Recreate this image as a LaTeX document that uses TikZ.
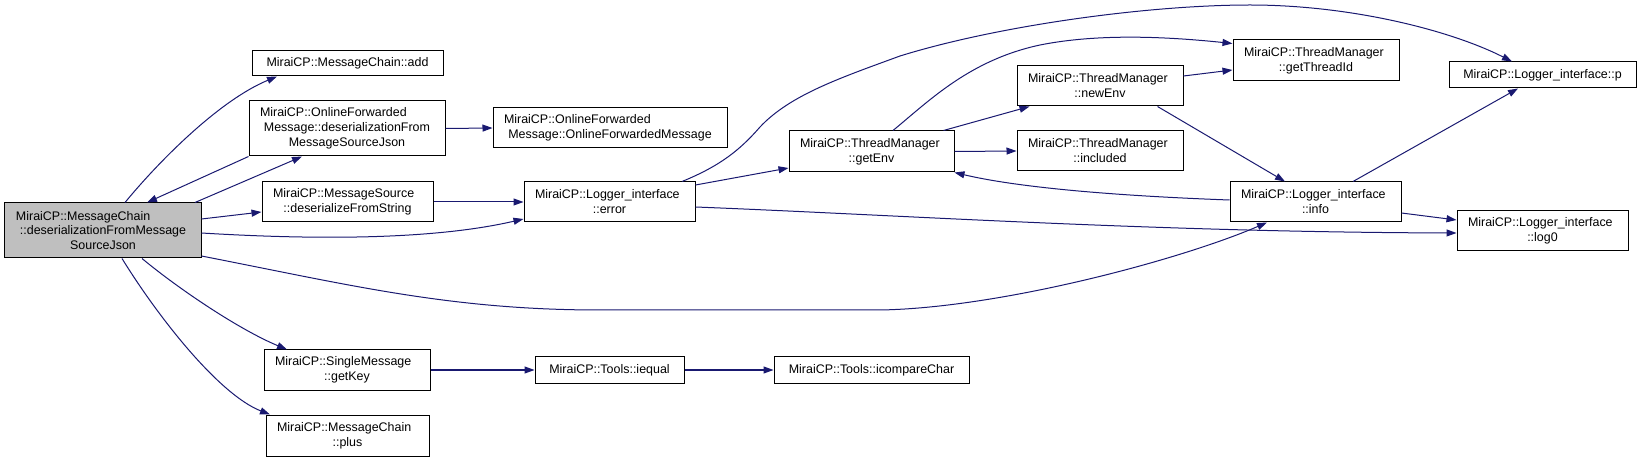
\documentclass[tikz,border=0pt]{standalone}
\usepackage{fontspec}
\setmainfont{Liberation Sans}
\usetikzlibrary{arrows.meta,calc}
\definecolor{edgecol}{HTML}{191970}
\definecolor{mainfill}{HTML}{BFBFBF}
\newcommand\firstl[1]{\makebox[\linewidth][l]{#1}}
\tikzset{
  fn/.style={draw=black, line width=1bp, fill=white, inner sep=0pt, align=center,
             font=\fontsize{12.5}{15}\selectfont},
  box/.style n args={2}{fn, minimum width=#1, minimum height=#2},
  mbox/.style n args={2}{fn, minimum width=#1, minimum height=#2, text width=#1-22bp},
  conn/.style={draw=edgecol, line width=1bp, -{Triangle[length=10bp,width=7bp]}},
}
\begin{document}
\begin{tikzpicture}[x=1bp,y=-1bp]
\useasboundingbox (0,0) rectangle (1641,461);
% nodes
\node[mbox={196bp}{55bp}, fill=mainfill] (main) at (103,230.5)
  {\firstl{MiraiCP::MessageChain}\\::deserializationFromMessage\\SourceJson};
\node[box={191bp}{25bp}] (add) at (347.5,63.5) {MiraiCP::MessageChain::add};
\node[mbox={196bp}{55bp}] (ofd) at (347,128.5)
  {\firstl{MiraiCP::OnlineForwarded}\\Message::deserializationFrom\\MessageSourceJson};
\node[mbox={171bp}{40bp}] (msrc) at (347.5,202)
  {\firstl{MiraiCP::MessageSource}\\::deserializeFromString};
\node[mbox={166bp}{40bp}] (getkey) at (347,370)
  {\firstl{MiraiCP::SingleMessage}\\::getKey};
\node[mbox={163bp}{41bp}] (plus) at (347.5,435.5)
  {\firstl{MiraiCP::MessageChain}\\::plus};
\node[mbox={234bp}{40bp}] (ofc) at (610,128)
  {\firstl{MiraiCP::OnlineForwarded}\\Message::OnlineForwardedMessage};
\node[mbox={171bp}{40bp}] (err) at (609.5,202)
  {\firstl{MiraiCP::Logger\_interface}\\::error};
\node[box={149bp}{26bp}] (iequal) at (609.5,370) {MiraiCP::Tools::iequal};
\node[box={195bp}{26bp}] (icmp) at (871.5,370) {MiraiCP::Tools::icompareChar};
\node[mbox={165bp}{41bp}] (getenv) at (871.5,151.5)
  {\firstl{MiraiCP::ThreadManager}\\::getEnv};
\node[mbox={166bp}{40bp}] (newenv) at (1100,86)
  {\firstl{MiraiCP::ThreadManager}\\::newEnv};
\node[mbox={166bp}{40bp}] (included) at (1100,151)
  {\firstl{MiraiCP::ThreadManager}\\::included};
\node[mbox={166bp}{41bp}] (gettid) at (1316,60.5)
  {\firstl{MiraiCP::ThreadManager}\\::getThreadId};
\node[mbox={171bp}{40bp}] (info) at (1315.5,202)
  {\firstl{MiraiCP::Logger\_interface}\\::info};
\node[box={187bp}{26bp}] (p) at (1542.5,75) {MiraiCP::Logger\_interface::p};
\node[mbox={171bp}{40bp}] (log0) at (1542.5,231)
  {\firstl{MiraiCP::Logger\_interface}\\::log0};
% edges
\draw[conn] ($(main.north)+(22,0)$) .. controls (160,160) and (220,100) .. ($(add.south)+(-70.5,0)$);
\draw[conn] (ofd.south west) -- ($(main.north)+(44,0)$);
\draw[conn] ($(main.north)+(92,0)$) -- ($(ofd.south)+(-45,0)$);
\draw[conn] ($(main.east)+(0,-11.5)$) -- ($(msrc.west)+(0,10)$);
\draw[conn] ($(main.east)+(0,2.5)$) .. controls (350,242) and (450,236) .. ($(err.west)+(0,17)$);
\draw[conn] ($(main.east)+(0,25.5)$) .. controls (350,285) and (450,310) .. (600,310) -- (880,310)
   .. controls (1000,308) and (1180,260) .. ($(info.south)+(-48.5,0)$);
\draw[conn] ($(main.south)+(39,0)$) .. controls (180,290) and (240,330) .. ($(getkey.north)+(-60,0)$);
\draw[conn] ($(main.south)+(19,0)$) .. controls (160,320) and (220,395) .. ($(plus.north)+(-77.5,0)$);
\draw[conn] (ofd.east) -- (ofc.west);
\draw[conn] (msrc.east) -- (err.west);
\draw[conn] (getkey.east) -- (iequal.west);
\draw[conn] (iequal.east) -- (icmp.west);
\draw[conn] ($(err.east)+(0,-17)$) -- ($(getenv.west)+(0,16.5)$);
\draw[conn] ($(err.north)+(72.5,0)$) .. controls (720,166) and (740,150) .. (760,127)
   .. controls (790,95) and (840,78) .. (900,56)
   .. controls (1000,25) and (1150,5) .. (1250,5)
   .. controls (1350,5) and (1450,30) .. ($(p.north)+(-30.5,0)$);
\draw[conn] ($(err.east)+(0,5)$) .. controls (900,215) and (1150,232) .. ($(log0.west)+(0,2)$);
\draw[conn] ($(getenv.north east)+(-11,0)$) -- ($(newenv.south west)+(13,0)$);
\draw[conn] (getenv.east) -- (included.west);
\draw[conn] ($(getenv.north)+(21.5,0)$) .. controls (930,100) and (970,60) .. (1040,45)
   .. controls (1100,33) and (1170,37) .. ($(gettid.west)+(0,-17)$);
\draw[conn] ($(newenv.east)+(0,-10)$) -- ($(gettid.west)+(0,9.5)$);
\draw[conn] ($(newenv.south east)+(-26,0)$) -- ($(info.north)+(-30.5,0)$);
\draw[conn] ($(info.west)+(0,-2)$) .. controls (1120,196) and (1020,188) .. (getenv.south east);
\draw[conn] ($(info.north)+(37.5,0)$) -- ($(p.south)+(-24.5,0)$);
\draw[conn] ($(info.east)+(0,11)$) -- ($(log0.west)+(0,-11)$);
\end{tikzpicture}
\end{document}
